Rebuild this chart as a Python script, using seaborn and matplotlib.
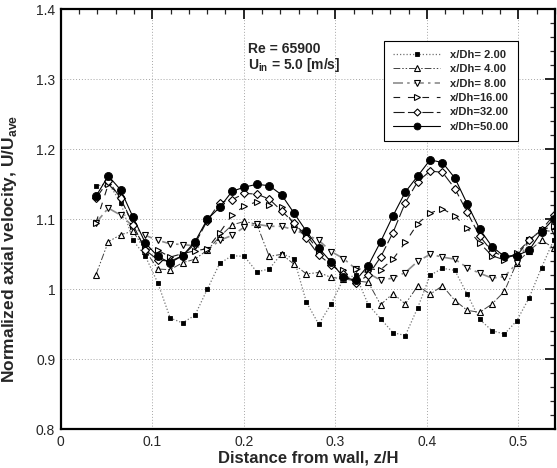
import matplotlib
matplotlib.use("Agg")
import matplotlib.pyplot as plt
import seaborn as sns
import pandas as pd
import numpy as np

# ---------------- data ----------------
z = [0.0385, 0.0520, 0.0655, 0.0790, 0.0926, 0.1061, 0.1196, 0.1331, 0.1467, 0.1601,
     0.1737, 0.1872, 0.2007, 0.2142, 0.2278, 0.2413, 0.2548, 0.2683, 0.2819, 0.2954,
     0.3089, 0.3224, 0.3360, 0.3495, 0.3630, 0.3765, 0.3901, 0.4036, 0.4171, 0.4306,
     0.4441, 0.4577, 0.4712, 0.4847, 0.4982, 0.5118, 0.5253, 0.5388]

u_2 = [1.147, 1.152, 1.124, 1.070, 1.047, 1.009, 0.959, 0.952, 0.963, 1.000,
       1.037, 1.048, 1.047, 1.025, 1.029, 1.051, 1.044, 0.982, 0.950, 0.979,
       1.015, 1.020, 0.978, 0.958, 0.938, 0.934, 0.974, 1.020, 1.030, 1.027,
       0.993, 0.957, 0.941, 0.936, 0.955, 0.988, 1.031, 1.071]
u_4 = [1.021, 1.068, 1.078, 1.083, 1.055, 1.029, 1.028, 1.038, 1.043, 1.056,
       1.075, 1.092, 1.097, 1.093, 1.047, 1.050, 1.036, 1.022, 1.024, 1.017,
       1.015, 1.012, 1.010, 0.978, 0.994, 0.979, 1.005, 0.993, 1.005, 0.984,
       0.970, 0.967, 0.979, 0.997, 1.038, 1.055, 1.070, 1.059]
u_8 = [1.095, 1.116, 1.106, 1.090, 1.077, 1.070, 1.065, 1.064, 1.062, 1.056,
       1.070, 1.077, 1.089, 1.093, 1.090, 1.090, 1.085, 1.078, 1.070, 1.054,
       1.044, 1.029, 1.023, 1.013, 1.016, 1.024, 1.040, 1.050, 1.046, 1.043,
       1.031, 1.023, 1.016, 1.018, 1.037, 1.070, 1.085, 1.082]
u_16 = [1.095, 1.150, 1.133, 1.090, 1.058, 1.056, 1.046, 1.051, 1.055, 1.058,
        1.081, 1.106, 1.119, 1.125, 1.120, 1.118, 1.093, 1.078, 1.055, 1.040,
        1.028, 1.029, 1.029, 1.028, 1.043, 1.067, 1.094, 1.109, 1.115, 1.105,
        1.087, 1.066, 1.048, 1.042, 1.052, 1.070, 1.085, 1.090]
u_32 = [1.130, 1.155, 1.130, 1.092, 1.056, 1.042, 1.040, 1.048, 1.065, 1.098,
        1.124, 1.128, 1.137, 1.136, 1.129, 1.112, 1.095, 1.073, 1.049, 1.035,
        1.022, 1.009, 1.020, 1.046, 1.081, 1.124, 1.154, 1.169, 1.167, 1.144,
        1.110, 1.076, 1.054, 1.047, 1.048, 1.070, 1.085, 1.106]
u_50 = [1.133, 1.162, 1.142, 1.103, 1.066, 1.047, 1.038, 1.048, 1.068, 1.100,
        1.117, 1.140, 1.146, 1.150, 1.148, 1.135, 1.109, 1.083, 1.059, 1.039,
        1.017, 1.013, 1.034, 1.068, 1.105, 1.139, 1.162, 1.185, 1.181, 1.159,
        1.122, 1.086, 1.061, 1.047, 1.048, 1.056, 1.082, 1.101]

labels = ["x/Dh= 2.00", "x/Dh= 4.00", "x/Dh= 8.00", "x/Dh=16.00", "x/Dh=32.00", "x/Dh=50.00"]
series = [u_2, u_4, u_8, u_16, u_32, u_50]

x_ticks = [0, 0.1, 0.2, 0.3, 0.4, 0.5]
x_ticklabels = ["0", "0.1", "0.2", "0.3", "0.4", "0.5"]
y_ticks = [0.8, 0.9, 1.0, 1.1, 1.2, 1.3, 1.4]
y_ticklabels = ["0.8", "0.9", "1", "1.1", "1.2", "1.3", "1.4"]

# ---------------- style ----------------
sns.set_style("white")
plt.rcParams["font.family"] = ["Liberation Sans", "DejaVu Sans"]
plt.rcParams["mathtext.fontset"] = "custom"
plt.rcParams["mathtext.rm"] = "Liberation Sans"
plt.rcParams["mathtext.bf"] = "Liberation Sans:bold"

styles = [
    dict(color="0.45", linestyle=(0, (1, 1.6)), linewidth=0.9, marker="s", markersize=3.4,
         markerfacecolor="black", markeredgecolor="black", markeredgewidth=0.6),
    dict(color="0.25", linestyle=(0, (7, 2, 1.5, 2, 1.5, 2)), linewidth=0.7, marker="^", markersize=5.0,
         markerfacecolor="white", markeredgecolor="black", markeredgewidth=0.8),
    dict(color="0.55", linestyle=(0, (6, 2.5, 1.5, 2.5)), linewidth=1.2, marker="v", markersize=5.0,
         markerfacecolor="white", markeredgecolor="black", markeredgewidth=0.8),
    dict(color="0.1", linestyle=(0, (6, 7)), linewidth=0.8, marker=">", markersize=5.0,
         markerfacecolor="white", markeredgecolor="black", markeredgewidth=0.8),
    dict(color="0.1", linestyle=(0, (10, 3)), linewidth=0.8, marker="D", markersize=4.2,
         markerfacecolor="white", markeredgecolor="black", markeredgewidth=0.8),
    dict(color="black", linestyle="-", linewidth=0.8, marker="o", markersize=5.8,
         markerfacecolor="black", markeredgecolor="black", markeredgewidth=0.6),
]

frames = []
for lab, vals in zip(labels, series):
    frames.append(pd.DataFrame({"z": z, "U": vals, "case": lab}))
df = pd.concat(frames, ignore_index=True)

fig = plt.figure(figsize=(5.57, 4.68), dpi=100)
ax = fig.add_axes([0.109, 0.0827, 0.8874, 0.8974])

for lab, st in zip(labels, styles):
    sns.lineplot(data=df[df["case"] == lab], x="z", y="U", ax=ax, label=lab,
                 estimator=None, sort=False, **st)

ax.set_xlim(0, 0.54)
ax.set_ylim(0.8, 1.4)
ax.set_xticks(x_ticks)
ax.set_xticklabels(x_ticklabels, fontsize=10)
ax.set_yticks(y_ticks)
ax.set_yticklabels(y_ticklabels, fontsize=10)
ax.set_xticks(np.arange(0, 0.541, 0.02), minor=True)
ax.set_yticks(np.arange(0.8, 1.401, 0.02), minor=True)
ax.tick_params(which="major", direction="in", length=7, width=1.4, top=True, right=True, pad=4)
ax.tick_params(which="minor", direction="in", length=3.5, width=0.9, top=True, right=True)

ax.grid(True, which="major", color="0.65", linestyle=(0, (1, 2)), linewidth=0.7)
for sp in ax.spines.values():
    sp.set_color("black")
    sp.set_linewidth(1.6)

ax.set_xlabel("Distance from wall, z/H", fontsize=12, fontweight="bold", labelpad=1)
ax.set_ylabel(r"Normalized axial velocity, U/U$_{\mathbf{ave}}$", fontsize=12.5, fontweight="bold")
ax.yaxis.set_label_coords(-0.085, 0.43)

ax.text(0.2046, 1.353, "Re = 65900", fontsize=10, fontweight="bold", va="top", ha="left")
ax.text(0.2046, 1.333, r"U$_{\mathbf{in}}$ = 5.0 [m/s]", fontsize=10, fontweight="bold", va="top", ha="left")

handles, labs = ax.get_legend_handles_labels()
leg = ax.legend(handles, labs, loc="upper right", bbox_to_anchor=(0.925, 0.925), borderaxespad=0,
                frameon=True, fancybox=False, shadow=False, framealpha=1, edgecolor="black",
                prop={"weight": "bold", "size": 8}, handlelength=4.2, labelspacing=0.4,
                borderpad=0.8, handletextpad=0.9, markerscale=0.85)
leg.get_frame().set_linewidth(0.8)

fig.savefig("out.png", dpi=100)
